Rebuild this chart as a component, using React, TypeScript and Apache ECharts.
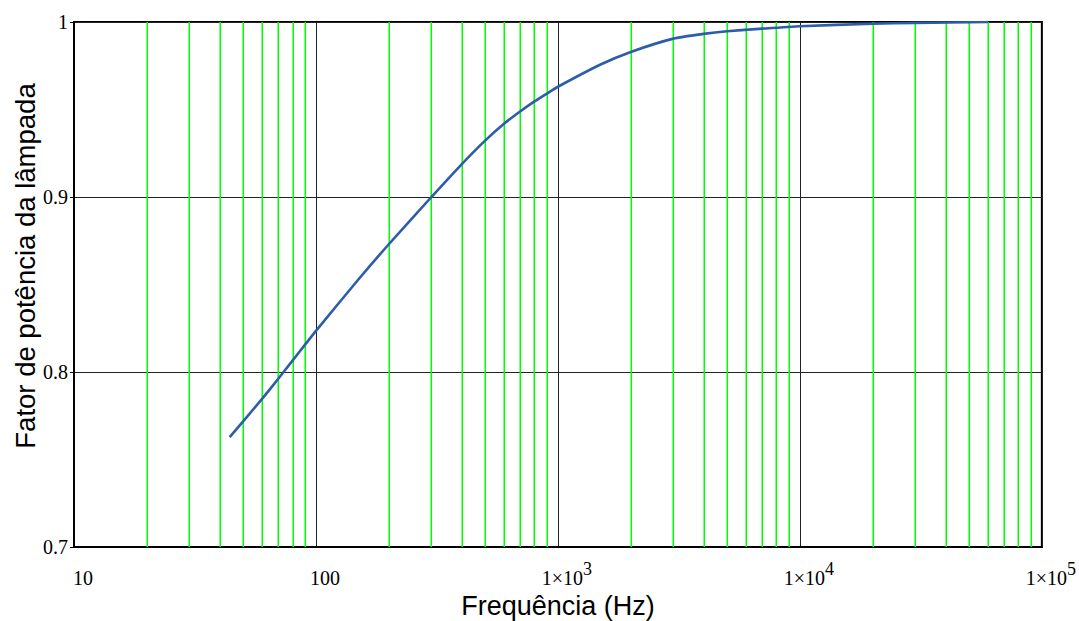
import React, { useEffect, useRef } from "react";
import * as echarts from "echarts";

// Frequency (Hz) and lamp power factor
const freqHz = [44, 50, 60, 70, 80, 90, 100, 150, 200, 300, 400, 500, 600, 700, 800, 900, 1000, 1500, 2000, 3000, 4000, 5000, 7000, 10000, 20000, 30000, 60000];
const powerFactor = [0.7628, 0.7718, 0.7848, 0.7963, 0.8065, 0.8155, 0.8235, 0.853, 0.873, 0.9, 0.9187, 0.9322, 0.942, 0.949, 0.9546, 0.9591, 0.963, 0.9757, 0.9829, 0.9905, 0.9932, 0.9947, 0.9962, 0.9976, 0.999, 0.9995, 1.0];

// Axis ticks
const xDecades = [10, 100, 1000, 10000, 100000];
const yTicks = [0.7, 0.8, 0.9, 1];
const minorMultipliers = [2, 3, 4, 5, 6, 7, 8, 9];

const xTitle = "Frequência (Hz)";
const yTitle = "Fator de potência da lâmpada";

export default function App() {
  const ref = useRef<HTMLDivElement>(null);

  useEffect(() => {
    if (!ref.current) return;
    const chart = echarts.init(ref.current, null, { renderer: "svg" });

    const yMin = yTicks[0];
    const yMax = yTicks[yTicks.length - 1];
    const minorValues: number[][] = [];
    for (let i = 0; i < xDecades.length - 1; i++) {
      for (const m of minorMultipliers) minorValues.push([m * xDecades[i], yMin]);
    }

    const serif = "'Liberation Serif', 'Times New Roman', serif";
    const sans = "'Liberation Sans', Arial, sans-serif";

    chart.setOption({
      animation: false,
      backgroundColor: "#ffffff",
      grid: {
        left: 74,
        right: 36,
        top: 22,
        bottom: 74,
        show: true,
        borderColor: "#000",
        borderWidth: 2,
        backgroundColor: "transparent",
      },
      xAxis: {
        type: "log",
        logBase: 10,
        min: xDecades[0],
        max: xDecades[xDecades.length - 1],
        axisLine: { show: true, lineStyle: { color: "#000", width: 2 } },
        axisTick: { show: false },
        splitLine: { show: true, lineStyle: { color: "#222", width: 1 } },
        axisLabel: {
          margin: 13,
          padding: [0, 0, 0, 18],
          verticalAlign: "top",
          formatter: (v: number) => {
            const e = Math.round(Math.log10(v));
            if (e <= 2) return `{m|${Math.round(v)}}`;
            return `{m|1×10}{s|${e}}`;
          },
          rich: {
            m: { fontFamily: serif, fontSize: 20, color: "#000", lineHeight: 28, verticalAlign: "bottom" },
            s: { fontFamily: serif, fontSize: 18, color: "#000", lineHeight: 18, verticalAlign: "top" },
          },
        },
      },
      yAxis: {
        type: "value",
        min: yMin,
        max: yMax,
        interval: 0.1,
        axisLine: { show: true, lineStyle: { color: "#000", width: 2 } },
        axisTick: { show: true, length: 4, lineStyle: { color: "#000", width: 1 } },
        splitLine: { show: true, lineStyle: { color: "#222", width: 1 } },
        axisLabel: {
          margin: 6,
          fontFamily: serif,
          fontSize: 20,
          color: "#000",
          formatter: (v: number) => (Math.abs(v - 1) < 1e-9 ? "1" : v.toFixed(1)),
        },
      },
      series: [
        {
          type: "custom",
          z: 1,
          silent: true,
          clip: false,
          data: minorValues,
          renderItem: (params: any, api: any) => {
            const xv = api.value(0);
            const pb = api.coord([xv, yMin]);
            const pt = api.coord([xv, yMax]);
            const x = Math.round(pb[0]) + 0.25;
            return {
              type: "line",
              shape: { x1: x, y1: pt[1], x2: x, y2: pb[1] },
              style: { stroke: "#00ff00", lineWidth: 1.5 },
            };
          },
        },
        {
          type: "line",
          z: 5,
          data: freqHz.map((f, i) => [f, powerFactor[i]]),
          showSymbol: false,
          smooth: 0.2,
          lineStyle: { color: "#2b5da8", width: 2.6 },
        },
      ],
      graphic: [
        {
          type: "text",
          x: 558,
          y: 606,
          style: {
            text: xTitle,
            fontFamily: sans,
            fontSize: 27,
            fill: "#000",
            textAlign: "center",
            textVerticalAlign: "middle",
          },
        },
        {
          type: "text",
          x: 25,
          y: 266,
          rotation: Math.PI / 2,
          style: {
            text: yTitle,
            fontFamily: sans,
            fontSize: 27.5,
            fill: "#000",
            textAlign: "center",
            textVerticalAlign: "middle",
          },
        },
      ],
    });

    return () => chart.dispose();
  }, []);

  return (
    <div
      ref={ref}
      style={{ position: "fixed", left: 0, top: 0, width: 1079, height: 621 }}
    />
  );
}
